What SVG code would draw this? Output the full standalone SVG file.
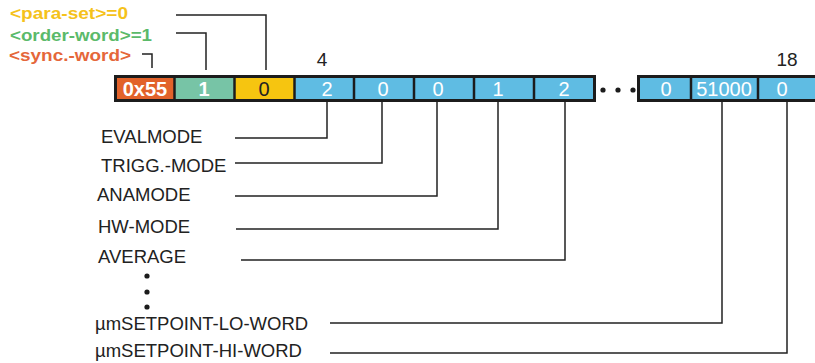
<svg xmlns="http://www.w3.org/2000/svg" width="815" height="363" viewBox="0 0 815 363">
<style>
.lbl{font-family:"Liberation Sans",Arial,sans-serif;font-weight:bold;font-size:16px}
.cell{font-family:"Liberation Sans",Arial,sans-serif;font-size:20px;text-anchor:middle;fill:#fff}
.num{font-family:"Liberation Sans",Arial,sans-serif;font-size:19px;text-anchor:middle;fill:#222}
.name{font-family:"Liberation Sans",Arial,sans-serif;font-size:18.5px;fill:#222}
.conn{fill:none;stroke:#222;stroke-width:1.5}
.frame{fill:none;stroke:#1c1c1c;stroke-width:3}
.div{stroke:#1c1c1c;stroke-width:2.5}
.blue{fill:#5fbce3}
</style>
<rect width="815" height="363" fill="#fff"/>
<g id="top-labels">
<text class="lbl" x="10" y="19" fill="#f5c21b" textLength="118" lengthAdjust="spacingAndGlyphs">&lt;para-set&gt;=0</text>
<text class="lbl" x="10" y="41" fill="#5bba6a" textLength="142" lengthAdjust="spacingAndGlyphs">&lt;order-word&gt;=1</text>
<text class="lbl" x="9" y="61" fill="#e5673a" textLength="122" lengthAdjust="spacingAndGlyphs">&lt;sync.-word&gt;</text>
</g>
<g id="index-labels">
<text class="num" x="322" y="66">4</text>
<text class="num" x="787" y="66">18</text>
</g>
<g id="bar1">
<rect x="115.5" y="76.5" width="59" height="24" fill="#e2622a"/>
<rect x="174.5" y="76.5" width="60" height="24" fill="#77c4a6"/>
<rect x="234.5" y="76.5" width="60" height="24" fill="#f6c510"/>
<rect class="blue" x="294.5" y="76.5" width="300" height="24"/>
<line class="div" x1="174.5" y1="76" x2="174.5" y2="101"/>
<line class="div" x1="234.5" y1="76" x2="234.5" y2="101"/>
<line class="div" x1="294.5" y1="76" x2="294.5" y2="101"/>
<line class="div" x1="354" y1="76" x2="354" y2="101"/>
<line class="div" x1="414" y1="76" x2="414" y2="101"/>
<line class="div" x1="474" y1="76" x2="474" y2="101"/>
<line class="div" x1="534" y1="76" x2="534" y2="101"/>
<rect class="frame" x="115.5" y="76.5" width="479" height="24"/>
<text class="cell" x="145" y="96" font-weight="bold" font-size="21">0x55</text>
<text class="cell" x="204" y="96" font-weight="bold">1</text>
<text class="cell" x="264" y="96" fill="#222" style="fill:#222">0</text>
<text class="cell" x="327" y="96">2</text>
<text class="cell" x="383" y="96">0</text>
<text class="cell" x="438" y="96">0</text>
<text class="cell" x="498" y="96">1</text>
<text class="cell" x="564" y="96">2</text>
</g>
<g id="ellipsis-h" fill="#1c1c1c">
<circle cx="603" cy="90" r="2.6"/>
<circle cx="618" cy="90" r="2.6"/>
<circle cx="633" cy="90" r="2.6"/>
</g>
<g id="bar2">
<rect class="blue" x="638.5" y="76.5" width="180" height="24"/>
<line class="div" x1="691" y1="76" x2="691" y2="101"/>
<line class="div" x1="758" y1="76" x2="758" y2="101"/>
<rect class="frame" x="638.5" y="76.5" width="180" height="24"/>
<text class="cell" x="666" y="96">0</text>
<text class="cell" x="724" y="96">51000</text>
<text class="cell" x="782" y="96">0</text>
</g>
<g id="connectors" class="conn">
<polyline points="176,15 266,15 266,70"/>
<polyline points="176,33 206,33 206,70"/>
<polyline points="142,54 152,54 152,68"/>
<polyline points="235,138 327,138 327,102"/>
<polyline points="235,163 382,163 382,102"/>
<polyline points="235,196 437,196 437,102"/>
<polyline points="236,229 498,229 498,102"/>
<polyline points="241,260 565,260 565,102"/>
<polyline points="330,323 722,323 722,102"/>
<polyline points="330,353 787,353 787,102"/>
</g>
<g id="field-names">
<text class="name" x="101" y="143">EVALMODE</text>
<text class="name" x="101" y="172">TRIGG.-MODE</text>
<text class="name" x="97" y="201">ANAMODE</text>
<text class="name" x="98" y="233">HW-MODE</text>
<text class="name" x="98" y="263">AVERAGE</text>
<text class="name" x="95" y="330">µmSETPOINT-LO-WORD</text>
<text class="name" x="95" y="357">µmSETPOINT-HI-WORD</text>
</g>
<g id="ellipsis-v" fill="#1c1c1c">
<circle cx="147" cy="276" r="2.6"/>
<circle cx="147" cy="292" r="2.6"/>
<circle cx="147" cy="307" r="2.6"/>
</g>
</svg>
